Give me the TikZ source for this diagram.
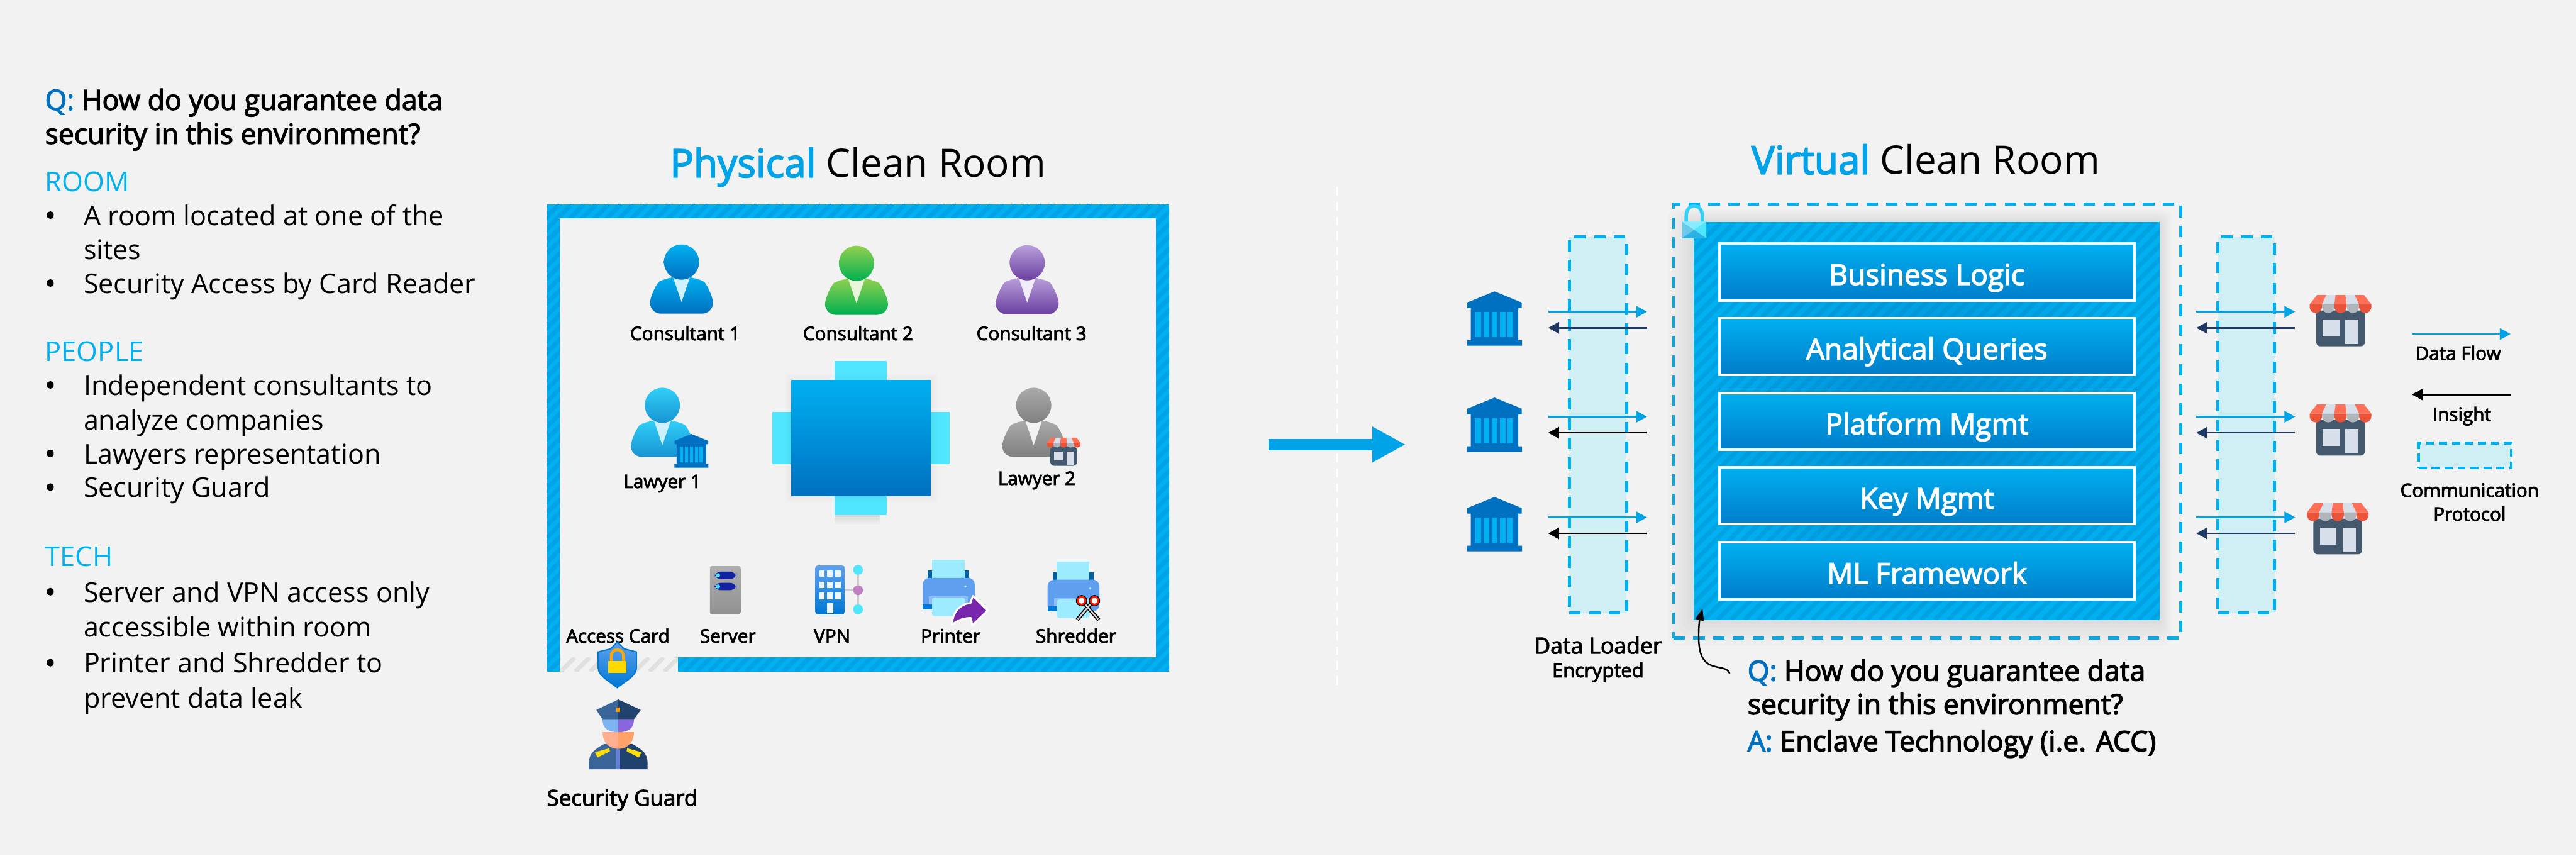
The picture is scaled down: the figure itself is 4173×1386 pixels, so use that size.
\documentclass[tikz,border=0pt]{standalone}
\usepackage{fontspec}
\setmainfont{Open Sans}
\newfontfamily\semifont[FakeBold=3]{Open Sans}
\usetikzlibrary{positioning, arrows.meta, calc}

\definecolor{pagebg}{HTML}{F2F2F2}
\definecolor{azure}{HTML}{00B0F0}
\definecolor{azureDk}{HTML}{00A3E6}
\definecolor{flow}{HTML}{00A2E8}
\definecolor{qblue}{HTML}{0070C0}
\definecolor{commfill}{HTML}{CFEFF5}
\definecolor{navy}{HTML}{1F3864}
\definecolor{chair}{HTML}{50E6FF}
\definecolor{leaf}{HTML}{92D050}
\definecolor{leafDk}{HTML}{00B050}
\definecolor{lilac}{HTML}{B9A0DC}
\definecolor{lilacDk}{HTML}{6B3FA0}
\definecolor{shopRed}{HTML}{FF7058}
\definecolor{shopDark}{HTML}{E8533A}
\definecolor{shopPale}{HTML}{D7E0EA}
\definecolor{shopGrey}{HTML}{B0B4BB}
\definecolor{shopWall}{HTML}{44596E}
\definecolor{devBlue}{HTML}{5EA0EF}
\definecolor{devDeep}{HTML}{0078D4}
\definecolor{paper}{HTML}{9CEBFF}
\definecolor{guardL}{HTML}{3A6599}
\definecolor{guardR}{HTML}{21416F}

% diagonal stripes inside a rectangle: x1,y1,x2,y2,colour,period
\newcommand{\hatchbox}[6]{
  \begin{scope}
    \clip (#1,#2) rectangle (#3,#4);
    \pgfmathsetmacro{\hatchH}{#4-#2}
    \pgfmathsetmacro{\hatchS}{#1-\hatchH}
    \pgfmathsetmacro{\hatchN}{\hatchS+#6}
    \foreach \s in {\hatchS,\hatchN,...,#3}
      \draw[#5, line width=0.7mm] (\s,#4) -- ++(\hatchH,-\hatchH);
  \end{scope}
}

\tikzset{
  pics/person/.style n args={3}{code={
    \shade[top color=#1, bottom color=#2, rounded corners=5]
      (-51,112) .. controls (-51,85) and (-40,62) .. (-20,52) -- (20,52)
      .. controls (40,62) and (51,85) .. (51,112) -- cycle;
    \fill[#3] (-14,52) -- (0,93) -- (14,52) -- cycle;
    \shade[top color=#1, bottom color=#2] (0,28.5) circle[radius=28.5];
  }},
  pics/bank/.style={code={
    \fill[qblue] (0,0) -- (44,18) -- (44,27) -- (38.5,27) -- (38.5,79) -- (44.5,79) -- (44.5,88)
      -- (-44.5,88) -- (-44.5,79) -- (-38.5,79) -- (-38.5,27) -- (-44,27) -- (-44,18) -- cycle;
    \foreach \c in {-26,-13,0,13,26}
      \fill[azure] (\c-4.5,33) rectangle (\c+4.5,74);
  }},
  pics/shop/.style={code={
    \fill[shopWall, rounded corners=2] (-39.5,25) rectangle (39.5,83);
    \fill[shopPale] (-29,40) rectangle (-2,67);
    \fill[shopPale] (8,40) rectangle (29,79);
    \foreach \ta/\tb/\ba/\bb/\cu/\cl in {-38/-23/-50/-30/shopRed/shopDark, -23/-8/-30/-10/shopPale/shopGrey,
        -8/8/-10/10/shopRed/shopDark, 8/23/10/30/shopPale/shopGrey, 23/38/30/50/shopRed/shopDark} {
      \fill[\cu] (\ta,0) -- (\tb,0) -- (\bb,15) -- (\ba,15) -- cycle;
      \fill[\cl] (\ba,15) -- (\ba,18) .. controls (\ba,33) and (\bb,33) .. (\bb,18) -- (\bb,15) -- cycle;
    }
  }},
  pics/printer/.style={code={
    \fill[paper] (0,0) rectangle (53,29);
    \fill[qblue!85!black] (-7,17) rectangle (0,29);
    \fill[qblue!85!black] (53,17) rectangle (60,29);
    \fill[devBlue, rounded corners=3] (-15,29) -- (69,29) -- (69,80) -- (-15,80) -- cycle;
    \fill[devDeep] (-15,72) rectangle (0,80);
    \fill[devBlue!70!white] (-5,59) rectangle (58,72);
    \fill[paper, rounded corners=1] (0,61) rectangle (53,91);
    \fill[paper] (54,43) circle[radius=2];
  }}
}

\begin{document}
\begin{tikzpicture}[
  x=0.1mm, y=-0.1mm,
  every node/.style={inner sep=0pt, outer sep=0pt},
  txt/.style    = {anchor=base west, font=\fontsize{12.5pt}{15pt}\selectfont},
  semi/.style   = {anchor=base west, font=\fontsize{12.9pt}{15pt}\semifont},
  sect/.style   = {anchor=base west, text=azure, font=\fontsize{12.6pt}{15pt}\selectfont},
  lbl/.style    = {anchor=base, font=\fontsize{8.6pt}{10pt}\semifont},
  ttl/.style    = {anchor=base, font=\fontsize{18pt}{21pt}\selectfont},
  layer/.style  = {draw=white, line width=0.4mm, top color=azure, bottom color=qblue!80!azure, text=white,
                   minimum width=67.3mm, minimum height=9.2mm, text height=4.2mm, text depth=0pt,
                   font=\fontsize{13.3pt}{15pt}\semifont},
  comm/.style   = {draw=azure, fill=commfill, line width=0.5mm, dash pattern=on 1.85mm off 1.35mm},
  data/.style   = {-{Triangle[length=1.75mm,width=1.85mm]}, flow, line width=0.28mm},
  back/.style   = {-{Triangle[length=1.75mm,width=1.85mm]}, line width=0.28mm},
]
  \useasboundingbox (0,0) rectangle (4173,1386);
  \fill[pagebg] (0,0) rectangle (4173,1386);

  % left column
  \node[semi] (qleft) at (73,178) {\textcolor{qblue}{Q:} How do you guarantee data};
  \node[semi] (qleftb) at (73,233) {security in this environment?};
  \foreach \y/\t [count=\i] in {310.7/ROOM, 585/PEOPLE, 917/TECH}
    \node[sect] (sect\i) at (73,\y) {\t};
  \foreach \y/\t [count=\i] in {365/A room located at one of the, 420/sites, 475/Security Access by Card Reader,
      640/Independent consultants to, 696/analyze companies, 751/Lawyers representation, 805.5/Security Guard,
      975/Server and VPN access only, 1032/accessible within room, 1090/Printer and Shredder to, 1147/prevent data leak}
    \node[txt] (item\i) at (135.5,\y) {\t};
  \foreach \y [count=\i] in {365,475,640,751,805.5,975,1090}
    \node[semi] (dot\i) at (73,\y) {•};

  % physical room
  \node[ttl] (phys) at (1390,287) {\textcolor{flow}{\semifont Physical} Clean Room};
  \fill[azure] (886,331) rectangle (1894,1088);
  \hatchbox{886}{331}{1894}{1088}{azureDk}{20}
  \fill[pagebg] (907,354) rectangle (1873,1065);
  \fill[pagebg] (907,1065) rectangle (1098,1088);
  \hatchbox{907}{1065}{1098}{1088}{black!12}{24}

  \pic (cons1) at (1104,396) {person={azure}{qblue}{azure!18}};
  \pic (cons2) at (1387.5,398) {person={leaf}{leafDk}{leaf!20}};
  \pic (cons3) at (1664,397) {person={lilac}{lilacDk}{lilac!20}};
  \pic (law1) at (1073,628) {person={chair!60!azure}{chair!30!qblue}{azure!20}};
  \pic (law2) at (1674.5,628) {person={black!33}{black!50}{pagebg}};
  \pic[scale=0.62] (law1bank) at (1120,703) {bank};
  \pic[scale=0.55] (law2shop) at (1723,709) {shop};
  \node[lbl] (lcons1) at (1110,551) {Consultant 1};
  \node[lbl] (lcons2) at (1390,551) {Consultant 2};
  \node[lbl] (lcons3) at (1671,551) {Consultant 3};
  \node[lbl] (llaw1) at (1073,790.5) {Lawyer 1};
  \node[lbl] (llaw2) at (1679.5,785.5) {Lawyer 2};

  % table and chairs
  \foreach \e in {3,6,...,15}
    \fill[black, opacity=0.02] (1352,834) rectangle (1425,834+\e);
  \fill[chair] (1352,585) rectangle (1436,834);
  \fill[chair] (1251,667) rectangle (1538,752);
  \foreach \e in {3,6,...,12}
    \fill[black, opacity=0.008] (1282-\e,616-\e) rectangle (1507.5+\e,803+\e);
  \shade[top color=azure, bottom color=qblue] (1282,616) rectangle (1507.5,803);

  % devices
  \shade[top color=black!32, bottom color=black!43, rounded corners=1] (1150,917) rectangle (1200,995);
  \foreach \y in {926,944} {
    \fill[navy!60!blue, rounded corners=3] (1157,\y) rectangle (1193,\y+12);
    \fill[chair] (1163,\y+6) circle[radius=3.5];
  }
  \fill[black!20] (1388.5,923) rectangle (1391.5,987);
  \fill[black!20] (1368,954.5) rectangle (1390,957.5);
  \shade[top color=devBlue, bottom color=devDeep, rounded corners=1] (1321,916) rectangle (1368,995);
  \foreach \x in {1327,1340,1353}
    \foreach \y in {924,942,960}
      \fill[white!90!devBlue] (\x,\y) rectangle (\x+9,\y+10.5);
  \fill[white!90!devBlue] (1340,977) rectangle (1350,993.5);
  \fill[chair] (1390,923) ellipse[x radius=8, y radius=8];
  \fill[violet!50!white] (1390,956) ellipse[x radius=8, y radius=8];
  \fill[chair] (1390,987) ellipse[x radius=8, y radius=8];
  \pic (printer) at (1510,907) {printer};
  \filldraw[fill=violet!75!blue!85!white, draw=white, line width=0.3mm, line join=round]
    (1600,989) -- (1576,965) -- (1572,977) .. controls (1555,978) and (1543,992) .. (1542,1012)
    .. controls (1552,1004) and (1562,1001) .. (1573,1001) -- (1575,1013) -- cycle;
  \pic (shredder) at (1712,910) {printer};
  \draw[black, line width=0.6mm] (1757,978) -- (1780,1004);
  \draw[black, line width=0.6mm] (1767,978) -- (1745,1004);
  \draw[black!15, line width=0.25mm] (1757,978) -- (1779,1003);
  \draw[black!15, line width=0.25mm] (1767,978) -- (1746,1003);
  \filldraw[fill=white, draw=red!80!orange, line width=0.35mm] (1752,973) circle[radius=6.5];
  \filldraw[fill=white, draw=red!80!orange, line width=0.35mm] (1773,973) circle[radius=6.5];
  \draw[black, line width=0.12mm] (1752,973) circle[radius=8.5];
  \draw[black, line width=0.12mm] (1773,973) circle[radius=8.5];
  \node[lbl] (laccess) at (1001,1041) {Access Card};
  \node[lbl] (lserver) at (1179,1041) {Server};
  \node[lbl] (lvpn) at (1348,1041) {VPN};
  \node[lbl] (lprinter) at (1540,1041) {Printer};
  \node[lbl] (lshredder) at (1743,1041) {Shredder};

  % shield and guard
  \shade[top color=devBlue, bottom color=devDeep, draw=devDeep, line width=0.2mm]
    (1000,1040) -- (1011,1051) -- (1031,1056) -- (1031,1082) .. controls (1031,1095) and (1012,1104) .. (1000,1114)
    .. controls (988,1104) and (969,1095) .. (969,1082) -- (969,1056) -- (989,1051) -- cycle;
  \draw[orange!70!yellow, line width=0.45mm] (990,1072) -- (990,1063) .. controls (990,1049) and (1010,1049) .. (1010,1063) -- (1010,1072);
  \shade[top color=yellow!70!orange, bottom color=orange!30!yellow] (985,1071) rectangle (1014,1090);
  \fill[guardL] (1001.6,1205) -- (979,1205) .. controls (962,1214) and (954,1222) .. (954,1235) -- (954,1246) -- (1001.6,1246) -- cycle;
  \fill[guardR] (1001.6,1205) -- (1024,1205) .. controls (1041,1214) and (1049,1222) .. (1049,1235) -- (1049,1246) -- (1001.6,1246) -- cycle;
  \fill[devBlue!80!violet] (998,1213) rectangle (1005,1246);
  \fill[yellow!80!orange] (964,1218.5) -- (987,1212) -- (988,1217) -- (968,1227) -- cycle;
  \fill[yellow!80!orange] (1039,1218.5) -- (1016,1212) -- (1015,1217) -- (1035,1227) -- cycle;
  \fill[orange!25!pink] (976,1186) -- (1001.6,1186) -- (1001.6,1213) .. controls (985,1213) and (976,1200) .. cycle;
  \fill[orange!45!pink] (1027,1186) -- (1001.6,1186) -- (1001.6,1213) .. controls (1018,1213) and (1027,1200) .. cycle;
  \fill[devBlue!80!white] (976,1165) -- (1001.6,1165) -- (1001.6,1186) .. controls (985,1186) and (976,1180) .. cycle;
  \fill[violet!45!blue!60!white] (1027,1165) -- (1001.6,1165) -- (1001.6,1186) .. controls (1018,1186) and (1027,1180) .. cycle;
  \fill[guardL] (1001.6,1133) -- (966,1150) -- (976,1165) -- (1001.6,1165) -- cycle;
  \fill[guardR] (1001.6,1133) -- (1038,1150) -- (1027,1165) -- (1001.6,1165) -- cycle;
  \fill[orange!80!yellow] (998,1146) rectangle (1005,1153);
  \node[lbl, font=\fontsize{10.1pt}{12pt}\semifont] (lguard) at (1008,1305) {Security Guard};

  % divider and main arrow
  \coordinate (divtop) at (2166.5,303);
  \coordinate (divbot) at (2166.5,1110);
  \draw[white, line width=0.27mm, dash pattern=on 1.4mm off 1mm] (divtop) -- (divbot);
  \coordinate (movefrom) at (2055,720);
  \coordinate (moveto) at (2277,720);
  \draw[-{Triangle[length=5.4mm,width=5.4mm]}, flow, line width=1.8mm] (movefrom) -- (moveto);

  % virtual room
  \node[ttl] (virt) at (3119.5,282) {\textcolor{flow}{\semifont Virtual} Clean Room};
  \node[comm, fill=none, minimum width=82.2mm, minimum height=70.3mm, anchor=north west] (enclave) at (2711,331) {};
  \foreach \e in {6,12,...,42}
    \fill[black, opacity=0.012, rounded corners=4] (2744-\e,360-\e/2) rectangle (3498+\e/2,1004+\e);
  \shade[inner color=qblue!60!azure, outer color=azure] (2744,360) rectangle (3498,1004);
  \hatchbox{2744}{360}{3498}{1004}{azure!70!qblue!85!black, opacity=0.3}{22}
  \foreach \y/\t [count=\i] in {440.5/Business Logic, 561/Analytical Queries, 682.5/Platform Mgmt, 803/Key Mgmt, 924.5/ML Framework}
    \node[layer] (layer\i) at (3121.5,\y) {\t};

  % lock
  \draw[chair!60!azure, line width=0.55mm] (2731.5,360) -- (2731.5,350) .. controls (2731.5,328) and (2757.5,328) .. (2757.5,350) -- (2757.5,360);
  \fill[chair!70!white] (2724.5,359) -- (2764,359) -- (2744.5,372.5) -- cycle;
  \fill[chair] (2764,359) -- (2764,386) -- (2744.5,372.5) -- cycle;
  \fill[chair!55!qblue!70!white] (2724.5,359) -- (2724.5,386) -- (2744.5,372.5) -- cycle;
  \fill[chair!55!qblue] (2724.5,386) -- (2764,386) -- (2744.5,372.5) -- cycle;

  % protocol columns
  \node[comm, minimum width=9.3mm, minimum height=60.9mm, anchor=north west] (loader) at (2542,384) {};
  \node[comm, minimum width=9.15mm, minimum height=60.9mm, anchor=north west] (protocol) at (3593,384) {};

  % banks and shops
  \foreach \y [count=\i] in {472,644,805}
    \pic (bank\i) at (2421,\y) {bank};
  \foreach \x/\y [count=\i] in {3791.5/478, 3791.5/655, 3787/815}
    \pic (shop\i) at (\x,\y) {shop};

  % arrows
  \foreach \r/\yf/\yb/\cb in {1/505/531/navy, 2/675/701/black, 3/838/864/black} {
    \coordinate (bankout\r) at (2508,\yf);
    \coordinate (loadin\r) at (2668,\yf);
    \coordinate (loadout\r) at (2668,\yb);
    \coordinate (bankin\r) at (2508,\yb);
    \draw[data] (bankout\r) -- (loadin\r);
    \draw[back, \cb] (loadout\r) -- (bankin\r);
  }
  \foreach \r/\yf/\yb in {1/505/531, 2/675/701, 3/838/864} {
    \coordinate (encout\r) at (3558,\yf);
    \coordinate (shopin\r) at (3718,\yf);
    \coordinate (shopout\r) at (3718,\yb);
    \coordinate (encin\r) at (3558,\yb);
    \draw[data] (encout\r) -- (shopin\r);
    \draw[back, navy] (shopout\r) -- (encin\r);
  }

  % legend
  \coordinate (flowa) at (3907,541);
  \coordinate (flowb) at (4067,541);
  \draw[data] (flowa) -- (flowb);
  \node[lbl] (lflow) at (3982,583) {Data Flow};
  \coordinate (insa) at (4067,639);
  \coordinate (insb) at (3907,639);
  \draw[back] (insa) -- (insb);
  \node[lbl] (linsight) at (3988,682) {Insight};
  \node[comm, dash pattern=on 1.3mm off 0.8mm, minimum width=15mm, minimum height=4mm, anchor=north west] (legbox) at (3918,718) {};
  \node[lbl] (lcomm) at (4000.6,805) {Communication};
  \node[lbl] (lproto) at (4000.6,843.6) {Protocol};

  % captions
  \node[lbl, font=\fontsize{10.3pt}{13pt}\semifont] (lloader) at (2588.6,1058.7) {Data Loader};
  \node[lbl, font=\fontsize{9pt}{11pt}\semifont] (lenc) at (2588.6,1097) {Encrypted};
  \node[semi] (qright) at (2831,1102.7) {\textcolor{qblue}{Q:} How do you guarantee data};
  \node[semi] (qrightb) at (2831,1157) {security in this environment?};
  \node[semi] (aright) at (2831,1216.7) {\textcolor{qblue}{A:} Enclave Technology (i.e. ACC)};
  \coordinate (qfrom) at (2802,1091);
  \coordinate (qto) at (2758,986);
  \draw[-{Triangle[length=1.9mm,width=1.4mm]}, black, line width=0.25mm]
    (qfrom) .. controls (2795,1072) and (2755,1095) .. (2752,1040) .. controls (2751,1020) and (2753,1005) .. (qto);
\end{tikzpicture}
\end{document}
